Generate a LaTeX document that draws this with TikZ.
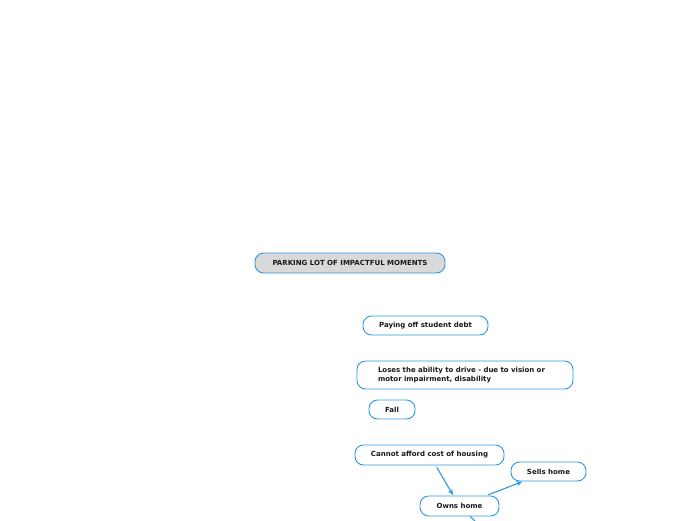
\documentclass[tikz,border=0pt]{standalone}
\usepackage{fontspec}
\setmainfont{DejaVu Sans}
\usetikzlibrary{arrows.meta}
\definecolor{mapblue}{HTML}{2A9AE0}
\definecolor{rootgray}{HTML}{D9D9D9}
\tikzset{
  topic/.style={draw=mapblue, line width=0.9pt, rounded corners=8.5pt, fill=white,
    font=\fontsize{7}{8.5}\selectfont\bfseries, text=black!90, inner sep=0pt, align=center},
  link/.style={draw=mapblue, line width=1.1pt, -{Stealth[length=6pt,width=5pt]}, shorten <=2pt, shorten >=0.5pt},
}
\begin{document}
\begin{tikzpicture}[x=1pt, y=-1pt]%
%
\useasboundingbox (0,0) rectangle (696,520);
%
% root
\node [ topic, fill=rootgray, minimum width=190pt, minimum height=20pt ] (parking) at (350,263) {PARKING LOT OF IMPACTFUL MOMENTS};
%
% moments
\node [ topic, minimum width=125pt, minimum height=19pt ] (debt) at (425.5,325.5) {Paying off student debt};
\node [ topic, minimum width=216pt, minimum height=28pt, align=left, text width=174pt ] (drive) at (465,375)
  {Loses the ability to drive - due to vision or\\motor impairment, disability};
\node [ topic, minimum width=46pt, minimum height=19pt ] (fall) at (392,409.5) {Fall};
\node [ topic, minimum width=149pt, minimum height=20pt ] (housing) at (429.5,455) {Cannot afford cost of housing};
\node [ topic, minimum width=75pt, minimum height=19pt ] (sells) at (548.5,471.5) {Sells home};
\node [ topic, minimum width=79pt, minimum height=20pt ] (owns) at (459.5,506) {Owns home};
%
\coordinate (offpage) at (477,523);
%
\draw [ link ] (housing) -- (owns);
\draw [ link ] (owns) -- (sells);
\draw [ draw=mapblue, line width=1.1pt ] (owns) -- (offpage);
%
\end{tikzpicture}
\end{document}
